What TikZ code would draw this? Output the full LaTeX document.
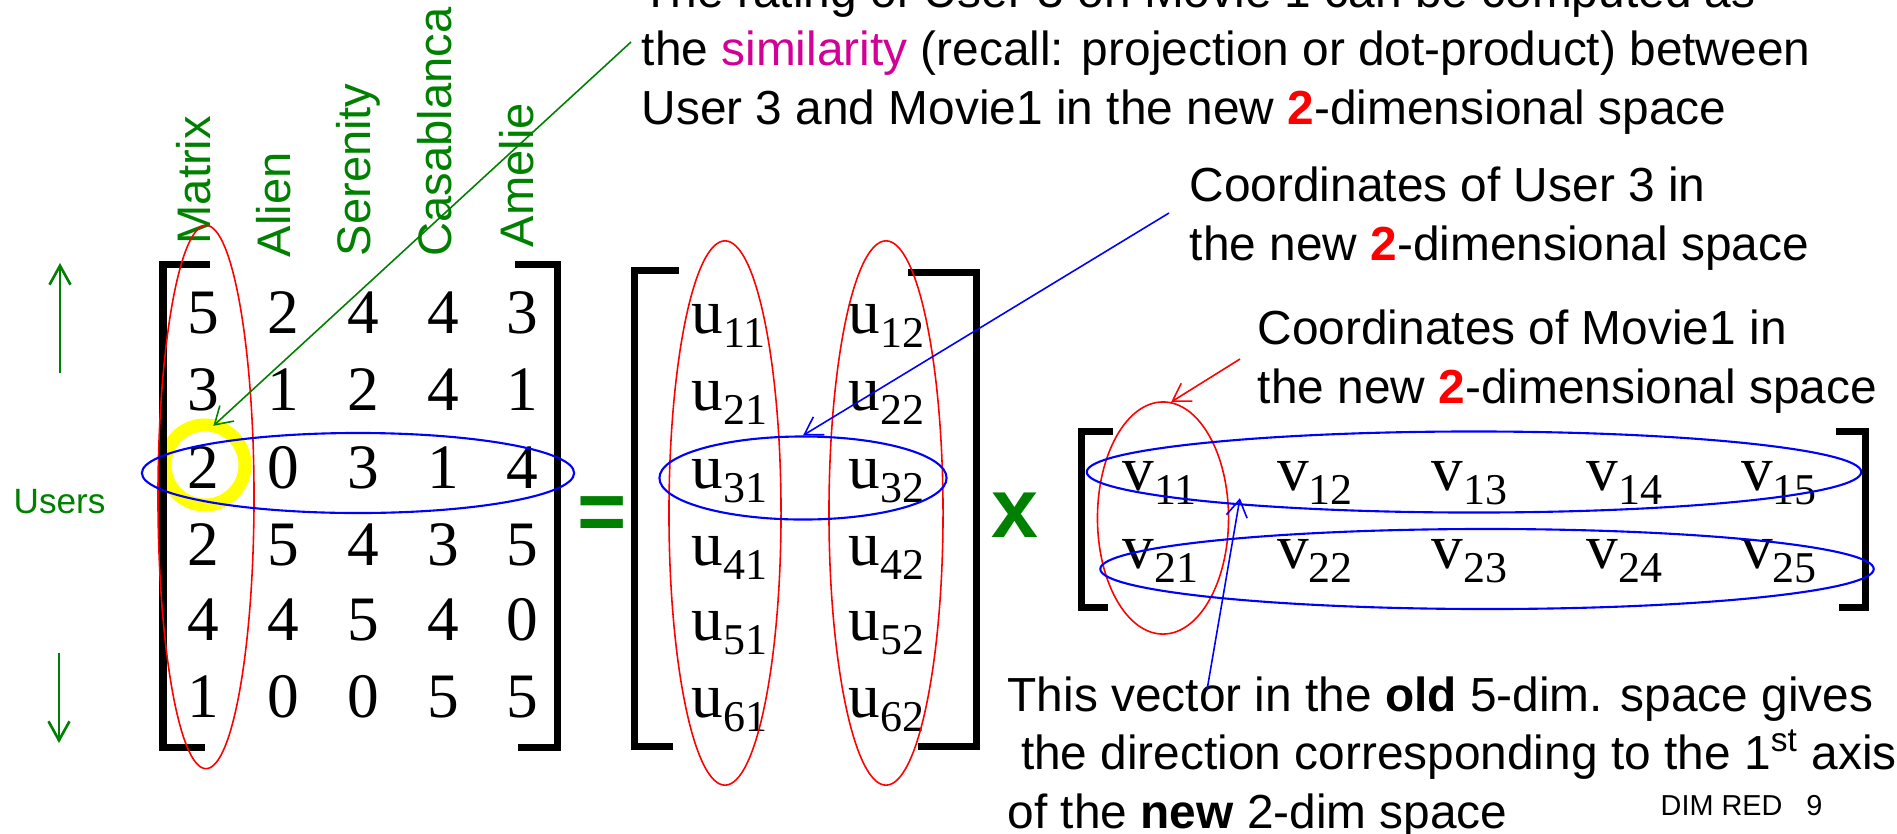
\documentclass[tikz,border=0pt]{standalone}
\usepackage{fontspec}
\setmainfont{Liberation Sans}
\newfontfamily\tms{Liberation Serif}
\usetikzlibrary{arrows.meta,shapes.geometric}
\definecolor{gr}{RGB}{0,128,0}
\definecolor{mg}{RGB}{210,0,150}
\definecolor{rd}{RGB}{255,0,0}
\definecolor{bl}{RGB}{0,0,255}
\definecolor{yl}{RGB}{255,255,0}
\newcommand{\ent}[2]{#1\raisebox{-0.14cm}{\fontsize{12.5}{12.5}\selectfont #2}}
\newcommand{\cl}[1]{\makebox[0.7975cm]{#1}}

\begin{document}
\begin{tikzpicture}[x=0.01cm,y=-0.01cm,
  txt/.style={inner sep=0,anchor=base west,align=left,font=\fontsize{13.6}{16.6}\selectfont},
  mov/.style={inner sep=0,anchor=base west,rotate=90,text=gr,font=\fontsize{13.4}{13.4}\selectfont},
  num/.style={inner sep=0,anchor=base west,font=\tms\fontsize{18}{18}\selectfont},
  brk/.style={line width=0.07cm},
  rov/.style={draw=rd,line width=0.45pt,ellipse,inner sep=0},
  bov/.style={draw=bl,line width=0.6pt,ellipse,inner sep=0},
  ar/.style={-{Straight Barb[length=1.7mm,width=2.1mm]},line width=0.45pt},
  big/.style={text=gr,inner sep=0,font=\bfseries\fontsize{24}{24}\selectfont}]
\path[use as bounding box,fill=white] (0,0) rectangle (1897,833);

% highlighted rating
\node[draw=yl,line width=0.13cm,circle,minimum size=0.8cm,inner sep=0,outer sep=0] (yel) at (205,465) {};

% brackets
\draw[brk] (210,264) -| (163,747) -- (205,747);
\draw[brk] (515,264) -| (557,747) -- (518,747);
\draw[brk] (679,270) -| (634,746) -- (673,746);
\draw[brk] (908,272) -| (976,746) -- (918,746);
\draw[brk] (1113,431) -| (1081,607) -- (1108,607);
\draw[brk] (1836,431) -| (1865,607) -- (1839,607);

% movies and users
\node[mov] (m1) at (210,245) {Matrix};
\node[mov] (m2) at (290,258) {Alien};
\node[mov] (m3) at (370,257) {Serenity};
\node[mov] (m4) at (451,257) {Casablanca};
\node[mov] (m5) at (533,248) {Amelie};
\node[inner sep=0,anchor=base west,text=gr,font=\fontsize{10}{10}\selectfont] (usr) at (13,513) {Users};
\coordinate (up0) at (60,373); \coordinate (up1) at (60,263);
\coordinate (dn0) at (59,653); \coordinate (dn1) at (59,743);
\draw[gr,-{Straight Barb[length=1.9mm,width=2.1mm]},line width=0.75pt] (up0) -- (up1);
\draw[gr,-{Straight Barb[length=1.9mm,width=2.1mm]},line width=0.75pt] (dn0) -- (dn1);

% ratings
\node[num] (r1) at (163,333) {\cl{5}\cl{2}\cl{4}\cl{4}\cl{3}};
\node[num] (r2) at (163,410) {\cl{3}\cl{1}\cl{2}\cl{4}\cl{1}};
\node[num] (r3) at (163,488) {\cl{2}\cl{0}\cl{3}\cl{1}\cl{4}};
\node[num] (r4) at (163,565) {\cl{2}\cl{5}\cl{4}\cl{3}\cl{5}};
\node[num] (r5) at (163,640) {\cl{4}\cl{4}\cl{5}\cl{4}\cl{0}};
\node[num] (r6) at (163,717) {\cl{1}\cl{0}\cl{0}\cl{5}\cl{5}};

\node[big] (eq) at (602,519) {=};
\node[big] (times) at (1015,515) {x};

% U
\node[num] (u1) at (691,333) {\makebox[1.57cm][l]{\ent{u}{11}}\ent{u}{12}};
\node[num] (u2) at (691,410) {\makebox[1.57cm][l]{\ent{u}{21}}\ent{u}{22}};
\node[num] (u3) at (691,488) {\makebox[1.57cm][l]{\ent{u}{31}}\ent{u}{32}};
\node[num] (u4) at (691,565) {\makebox[1.57cm][l]{\ent{u}{41}}\ent{u}{42}};
\node[num] (u5) at (691,640) {\makebox[1.57cm][l]{\ent{u}{51}}\ent{u}{52}};
\node[num] (u6) at (691,717) {\makebox[1.57cm][l]{\ent{u}{61}}\ent{u}{62}};

% V
\node[num] (v1) at (1122,490) {\makebox[1.545cm][l]{\ent{v}{11}}\makebox[1.545cm][l]{\ent{v}{12}}\makebox[1.545cm][l]{\ent{v}{13}}\makebox[1.545cm][l]{\ent{v}{14}}\ent{v}{15}};
\node[num] (v2) at (1122,568) {\makebox[1.545cm][l]{\ent{v}{21}}\makebox[1.545cm][l]{\ent{v}{22}}\makebox[1.545cm][l]{\ent{v}{23}}\makebox[1.545cm][l]{\ent{v}{24}}\ent{v}{25}};

% ovals
\node[rov,minimum width=0.96cm,minimum height=5.43cm] (lcol) at (206,497) {};
\node[rov,minimum width=1.12cm,minimum height=5.44cm] (ucol1) at (725,513) {};
\node[rov,minimum width=1.14cm,minimum height=5.44cm] (ucol2) at (886,513) {};
\node[rov,minimum width=1.31cm,minimum height=2.32cm] (vcol) at (1163,518) {};
\node[bov,minimum width=4.32cm,minimum height=0.8cm] (lrow) at (358,473) {};
\node[bov,minimum width=2.87cm,minimum height=0.83cm] (urow) at (803,478) {};
\node[bov,minimum width=7.74cm,minimum height=0.81cm] (vr1) at (1474,472) {};
\node[bov,minimum width=7.73cm,minimum height=0.8cm] (vr2) at (1487,569) {};

% captions (base = last line)
\node[txt] (top) at (641,124) {The rating of User 3 on Movie 1 can be computed as\\the \textcolor{mg}{similarity} (recall: projection or dot-product) between\\User 3 and Movie1 in the new \textcolor{rd}{\textbf{2}}-dimensional space};
\node[txt] (ucap) at (1189,260) {Coordinates of User 3 in\\the new \textcolor{rd}{\textbf{2}}-dimensional space};
\node[txt] (mcap) at (1257,403) {Coordinates of Movie1 in\\the new \textcolor{rd}{\textbf{2}}-dimensional space};
\node[txt] (vcap) at (1007,828) {This vector in the \textbf{old} 5-dim. space gives\\\ the direction corresponding to the 1\textsuperscript{st} axis\\of the \textbf{new} 2-dim space};
\node[inner sep=0,anchor=base west,font=\fontsize{8.2}{8.2}\selectfont] (pg) at (1660,815) {DIM RED\ \ \ 9};

\coordinate (gsrc) at (631,42);
\coordinate (usrc) at (1169,213);
\coordinate (msrc) at (1240,359);
\coordinate (vsrc) at (1207,690);
\draw[ar,gr] (gsrc) -- (yel.78);
\draw[ar,bl] (usrc) -- (urow.north);
\draw[ar,rd] (msrc) -- (vcol.86);
\draw[ar,bl,shorten >=-0.07cm] (vsrc) -- (vr1.188);
\end{tikzpicture}
\end{document}
